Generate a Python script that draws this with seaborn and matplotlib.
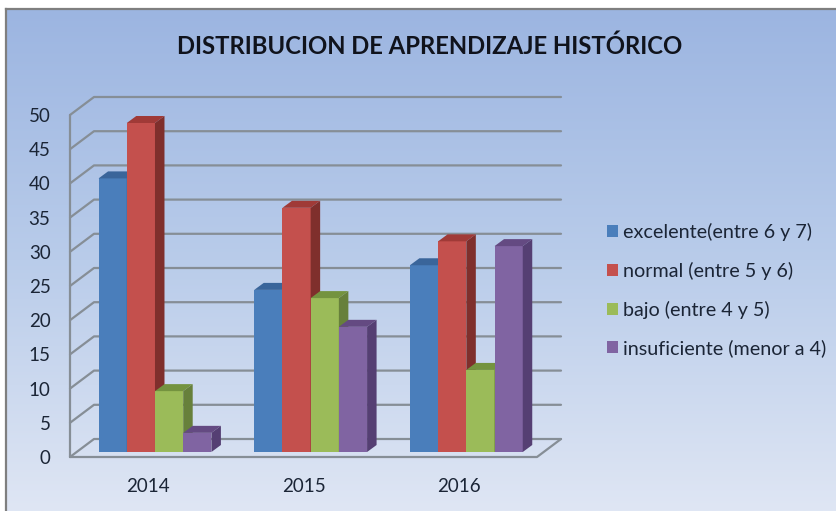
#!/usr/bin/env python3

#---------------------------------------------------------
# IMPORTS
#---------------------------------------------------------
import numpy as np
import pandas as pd
import seaborn as sns
import matplotlib
matplotlib.use("Agg")
import matplotlib.pyplot as plt
from matplotlib.colors import LinearSegmentedColormap
from matplotlib.patches import Polygon

#---------------------------------------------------------
# GLOBALS
#---------------------------------------------------------
years = ["2014", "2015", "2016"]
levels = ["excelente(entre 6 y 7)", "normal (entre 5 y 6)",
          "bajo (entre 4 y 5)", "insuficiente (menor a 4)"]
excelente = [40.0, 23.7, 27.3]
normal = [48.1, 35.7, 30.8]
bajo = [8.9, 22.5, 12.0]
insuficiente = [2.8, 18.3, 30.1]
yticks = [0, 5, 10, 15, 20, 25, 30, 35, 40, 45, 50]

front_colors = ["#4A7EBB", "#C4504D", "#9BBB59", "#8064A2"]
top_colors = ["#3A659A", "#A03A37", "#74933F", "#644A82"]
side_colors = ["#375D8C", "#7F2F2C", "#67803B", "#553F73"]

W, H = 836, 511
TEXT = "#1B2536"
GRID = "#868E96"

plt.rcParams["font.family"] = ["Lato", "DejaVu Sans"]


def px_box(x0, y0, x1, y1):
    # pixel box measured from top left -> figure fraction rect
    return [x0 / W, 1 - y1 / H, (x1 - x0) / W, (y1 - y0) / H]


def main():
    fig = plt.figure(figsize=(W / 100, H / 100), dpi=100, facecolor="white")

    # chart area background
    bg = fig.add_axes(px_box(6, 9, W, H))
    cmap = LinearSegmentedColormap.from_list("bg", ["#9CB5E1", "#B9CCEA", "#DFE6F4"])
    bg.imshow(np.linspace(0, 1, 256).reshape(-1, 1), aspect="auto", cmap=cmap)
    bg.set_xticks([])
    bg.set_yticks([])
    for name, sp in bg.spines.items():
        sp.set_visible(name in ("left", "top"))
        sp.set_color("#7F7F7F")
        sp.set_linewidth(1.6)

    df = pd.DataFrame({
        "year": years * 4,
        "level": np.repeat(levels, 3),
        "value": excelente + normal + bajo + insuficiente,
    })

    # axes = front plane of the 3d box
    ax = fig.add_axes(px_box(70, 115, 537, 457))
    ax.patch.set_alpha(0)
    sns.barplot(data=df, x="year", y="value", hue="level", hue_order=levels,
                palette=front_colors, saturation=1, width=0.725, gap=0,
                linewidth=0, ax=ax)
    ax.set_xlim(-0.5, 2.5)
    ax.set_ylim(0, 50)
    ax.set_xlabel("")
    ax.set_ylabel("")
    ax.set_yticks(yticks)
    ax.tick_params(axis="both", length=0, labelsize=13.5, labelcolor=TEXT)
    ax.tick_params(axis="y", pad=14)
    ax.tick_params(axis="x", pad=15)
    for sp in ax.spines.values():
        sp.set_visible(False)

    px_x = 3 / 467   # data units per pixel
    px_y = 50 / 342

    # walls and gridlines
    line = dict(color=GRID, lw=1.6, clip_on=False, zorder=1, solid_capstyle="round")
    bx, by = 24 * px_x, 18 * px_y
    for t in yticks:
        ax.plot([-0.5, -0.5 + bx, 2.5 + bx], [t, t + by, t + by], **line)
    ax.plot([-0.5, -0.5], [0, 50], **line)
    ax.plot([-0.5, 2.5, 2.5 + bx], [0, 0, by], **line)

    # bars sit mid depth, then get their top and side faces
    shift_x, shift_y = 7.15 * px_x, 5 * px_y
    dx, dy = 9.5 * px_x, 7 * px_y
    for i, cont in enumerate(ax.containers):
        for bar in cont:
            bar.set_x(bar.get_x() + shift_x)
            bar.set_y(shift_y)
            x0, x1 = bar.get_x(), bar.get_x() + bar.get_width()
            y0, y1 = shift_y, shift_y + bar.get_height()
            z = 3 + x0
            bar.set_zorder(z)
            bar.set_clip_on(False)
            ax.add_patch(Polygon([(x0, y1), (x1, y1), (x1 + dx, y1 + dy), (x0 + dx, y1 + dy)],
                                 fc=top_colors[i], lw=0, zorder=z, clip_on=False))
            ax.add_patch(Polygon([(x1, y0), (x1, y1), (x1 + dx, y1 + dy), (x1 + dx, y0 + dy)],
                                 fc=side_colors[i], lw=0, zorder=z, clip_on=False))

    handles, labels = ax.get_legend_handles_labels()
    ax.get_legend().remove()
    fig.legend(handles, labels, loc="center left",
               bbox_to_anchor=(607 / W, 1 - 290 / H), frameon=False,
               fontsize=14.2, labelcolor=TEXT, handlelength=0.56, handleheight=0.56,
               handletextpad=0.26, labelspacing=1.06, borderpad=0, borderaxespad=0)

    fig.text(430 / W, 1 - 46 / H, "DISTRIBUCION DE APRENDIZAJE HISTÓRICO",
             ha="center", va="center", fontsize=17.2, fontweight="bold", color="#10131C")

    fig.savefig("out.png", dpi=100)


if __name__ == "__main__":
    main()
